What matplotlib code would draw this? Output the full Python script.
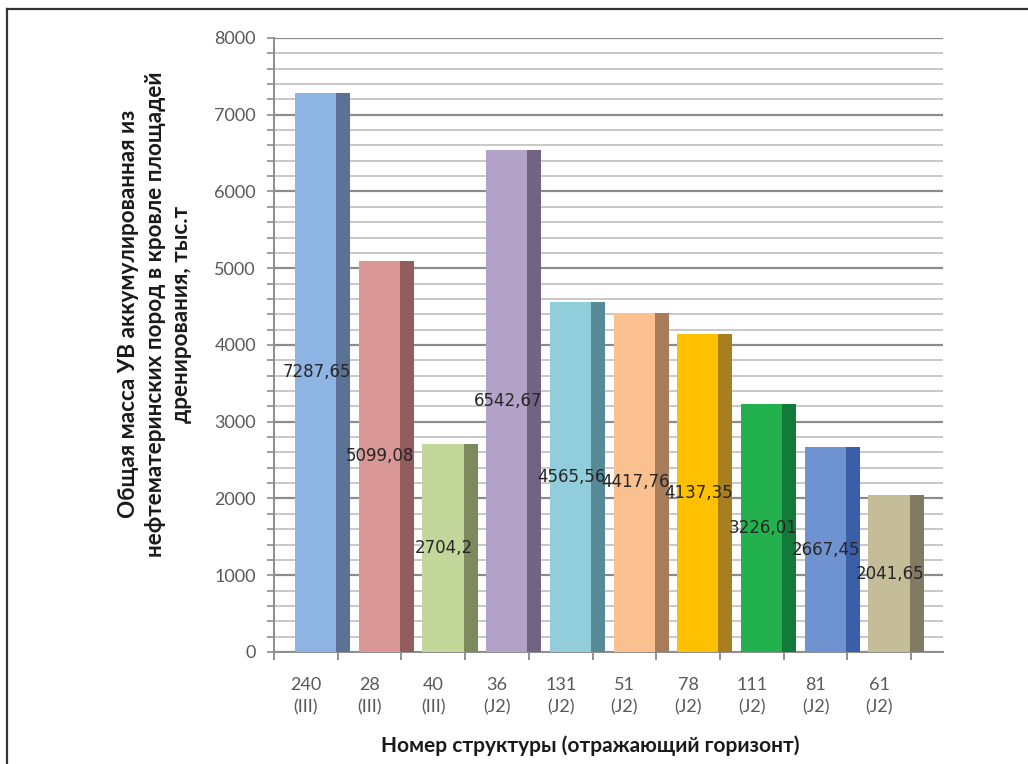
import matplotlib.pyplot as plt
from matplotlib.lines import Line2D
from matplotlib.ticker import MultipleLocator

# Structure numbers, reflecting horizons and accumulated mass (thousand t)
structures = ["240", "28", "40", "36", "131", "51", "78", "111", "81", "61"]
horizons = ["(III)", "(III)", "(III)", "(J2)", "(J2)", "(J2)", "(J2)", "(J2)", "(J2)", "(J2)"]
values = [7287.65, 5099.08, 2704.2, 6542.67, 4565.56, 4417.76, 4137.35, 3226.01, 2667.45, 2041.65]
value_labels = ["7287,65", "5099,08", "2704,2", "6542,67", "4565,56",
                "4417,76", "4137,35", "3226,01", "2667,45", "2041,65"]

front_colors = ["#8DB4E2", "#D99795", "#C4D79B", "#B3A2C7", "#92CDDC",
                "#FAC08F", "#FFC000", "#22B14C", "#6E93D0", "#C4BD97"]
side_colors = ["#5B7295", "#915E5D", "#7C8A5E", "#736383", "#568A96",
               "#A67C5B", "#A87E1E", "#137A3A", "#3A5FA8", "#807B62"]

plt.rcParams["font.family"] = ["Lato", "DejaVu Sans"]

fig = plt.figure(figsize=(10.28, 7.64), dpi=100)
ax = fig.add_axes([0.2665, 0.1466, 0.6508, 0.8037])

positions = list(range(len(values)))

# Front faces and darker side faces to imitate the 3D column look
ax.bar([p - 0.17 for p in positions], values, width=0.645, align="edge",
       color=front_colors, zorder=3)
ax.bar([p + 0.475 for p in positions], values, width=0.22, align="edge",
       color=side_colors, zorder=3)

# Value labels in the middle of each column
for p, v, lab in zip(positions, values, value_labels):
    ax.text(p + 0.17, v / 2, lab, ha="center", va="center", fontsize=12,
            color="#262626", family="DejaVu Sans", zorder=4)

ax.set_xlim(-0.5, 10.0)
ax.set_ylim(0, 8000)

ax.yaxis.set_major_locator(MultipleLocator(1000))
ax.yaxis.set_minor_locator(MultipleLocator(200))
ax.grid(which="major", axis="y", color="#8C8C8C", linewidth=1.6, zorder=0)
ax.grid(which="minor", axis="y", color="#C4C4C4", linewidth=1.3, zorder=0)
ax.set_axisbelow(True)

# Category ticks on the boundaries, labels in the centres
ax.set_xticks([p - 0.5 for p in positions] + [9.5])
ax.set_xticklabels([])
ax.set_xticks(positions, minor=True)
ax.set_xticklabels([f"{s}\n{h}" for s, h in zip(structures, horizons)],
                   minor=True, fontsize=13, color="#595959", linespacing=1.5)
ax.tick_params(axis="x", which="minor", length=0, pad=18)
ax.tick_params(axis="x", which="major", length=6, color="#7F7F7F", width=1.2)
ax.tick_params(axis="y", which="both", length=5, color="#8C8C8C", width=1.2,
               labelsize=13, labelcolor="#595959", pad=8)

for side in ["top", "right"]:
    ax.spines[side].set_visible(False)
for side in ["left", "bottom"]:
    ax.spines[side].set_color("#8C8C8C")
    ax.spines[side].set_linewidth(1.4)

fig.text(590 / 1028, 1 - 746 / 764, "Номер структуры (отражающий горизонт)",
         ha="center", va="center", fontsize=15, fontweight="bold", color="#1A1A1A")
fig.text(155 / 1028, 1 - 314 / 764,
         "Общая масса УВ аккумулированная из\n"
         "нефтематеринских пород в кровле площадей\n"
         "дренирования, тыс.т",
         ha="center", va="center", rotation=90, fontsize=16.2,
         fontweight="bold", color="#1A1A1A", linespacing=1.35,
         multialignment="center")

# Outer frame (top and left edges visible)
fig.add_artist(Line2D([7 / 1028, 7 / 1028], [0, 1 - 9 / 764],
                      transform=fig.transFigure, color="#333333", linewidth=1.6))
fig.add_artist(Line2D([7 / 1028, 1], [1 - 9 / 764, 1 - 9 / 764],
                      transform=fig.transFigure, color="#333333", linewidth=1.6))

fig.savefig("out.png", dpi=100)
